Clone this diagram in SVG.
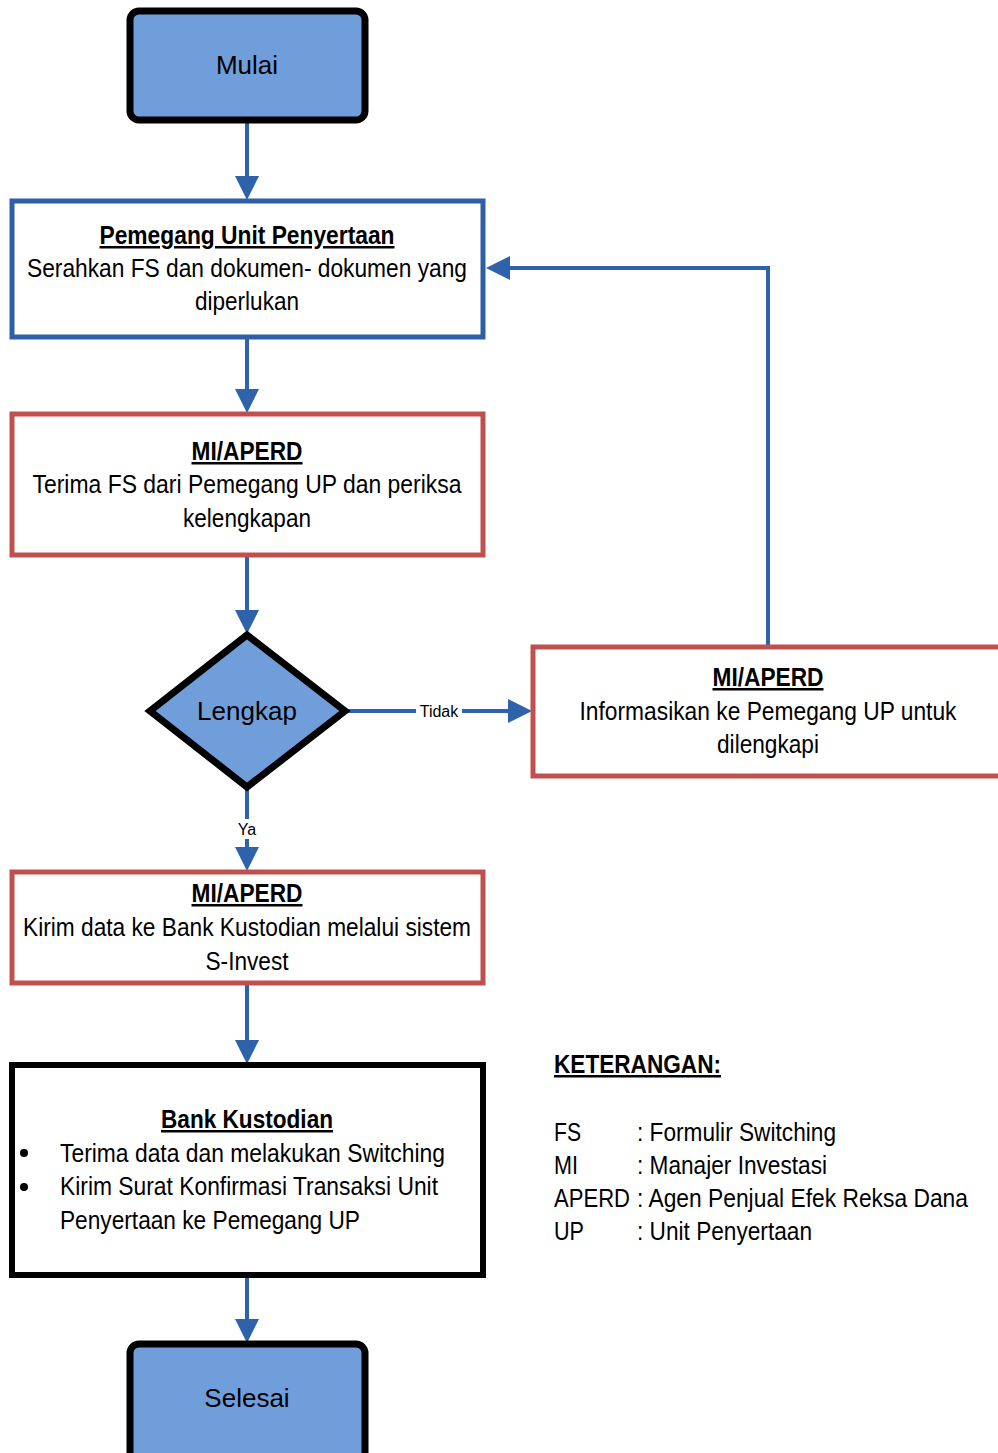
<svg xmlns="http://www.w3.org/2000/svg" width="998" height="1453" viewBox="0 0 998 1453">
<style>
.n{font-family:"Liberation Sans Narrow","Arial Narrow","Liberation Sans",sans-serif;font-size:25px;fill:#000}
.c{text-anchor:middle}
.b{font-weight:bold;text-decoration:underline}
.t{font-family:"Liberation Sans",Arial,sans-serif;font-size:26px;fill:#000;text-anchor:middle}
.s{font-family:"Liberation Sans",Arial,sans-serif;font-size:16px;fill:#000;text-anchor:middle}
.term{fill:#6f9edb;stroke:#000;stroke-width:7}
.blue{fill:#fff;stroke:#2e5fa6;stroke-width:5}
.red{fill:#fff;stroke:#c0504d;stroke-width:5}
.blk{fill:#fff;stroke:#000;stroke-width:6}
.con{fill:none;stroke:#2e62ab;stroke-width:4}
</style>
<defs>
<marker id="ah" markerWidth="6" markerHeight="6" refX="5" refY="3" orient="auto" markerUnits="strokeWidth">
<path d="M0,0 L6,3 L0,6 Z" fill="#2e62ab"/>
</marker>
</defs>
<g id="connectors">
<line class="con" x1="247" y1="121" x2="247" y2="196" marker-end="url(#ah)"/>
<line class="con" x1="247" y1="338" x2="247" y2="409" marker-end="url(#ah)"/>
<line class="con" x1="247" y1="556" x2="247" y2="630" marker-end="url(#ah)"/>
<line class="con" x1="345" y1="711" x2="528" y2="711" marker-end="url(#ah)"/>
<rect x="416" y="701" width="46" height="20" fill="#fff"/>
<text class="s" x="439" y="717">Tidak</text>
<line class="con" x1="247" y1="787" x2="247" y2="867" marker-end="url(#ah)"/>
<rect x="234" y="819" width="26" height="20" fill="#fff"/>
<text class="s" x="247" y="835">Ya</text>
<line class="con" x1="247" y1="985" x2="247" y2="1060" marker-end="url(#ah)"/>
<line class="con" x1="247" y1="1277" x2="247" y2="1339" marker-end="url(#ah)"/>
<polyline class="con" points="768,647 768,268 490,268" marker-end="url(#ah)"/>
</g>
<g id="mulai">
<rect class="term" x="130" y="11" width="235" height="109" rx="9"/>
<text class="t" x="247" y="74">Mulai</text>
</g>
<g id="pemegang">
<rect class="blue" x="12" y="201" width="471" height="136"/>
<text class="n c b" x="247" y="244" textLength="295" lengthAdjust="spacingAndGlyphs">Pemegang Unit Penyertaan</text>
<text class="n c" x="247" y="277" textLength="440" lengthAdjust="spacingAndGlyphs">Serahkan FS dan dokumen- dokumen yang</text>
<text class="n c" x="247" y="310" textLength="104" lengthAdjust="spacingAndGlyphs">diperlukan</text>
</g>
<g id="terima">
<rect class="red" x="12" y="414" width="471" height="141"/>
<text class="n c b" x="247" y="460" textLength="111" lengthAdjust="spacingAndGlyphs">MI/APERD</text>
<text class="n c" x="247" y="493" textLength="429" lengthAdjust="spacingAndGlyphs">Terima FS dari Pemegang UP dan periksa</text>
<text class="n c" x="247" y="527" textLength="128" lengthAdjust="spacingAndGlyphs">kelengkapan</text>
</g>
<g id="lengkap">
<polygon class="term" points="247,635 345,711 247,787 150,711"/>
<text class="t" x="247" y="720">Lengkap</text>
</g>
<g id="informasikan">
<rect class="red" x="533" y="647" width="475" height="129"/>
<text class="n c b" x="768" y="686" textLength="111" lengthAdjust="spacingAndGlyphs">MI/APERD</text>
<text class="n c" x="768" y="720" textLength="377" lengthAdjust="spacingAndGlyphs">Informasikan ke Pemegang UP untuk</text>
<text class="n c" x="768" y="753" textLength="102" lengthAdjust="spacingAndGlyphs">dilengkapi</text>
</g>
<g id="kirim">
<rect class="red" x="12" y="872" width="471" height="111"/>
<text class="n c b" x="247" y="902" textLength="111" lengthAdjust="spacingAndGlyphs">MI/APERD</text>
<text class="n c" x="247" y="936" textLength="448" lengthAdjust="spacingAndGlyphs">Kirim data ke Bank Kustodian melalui sistem</text>
<text class="n c" x="247" y="970" textLength="83" lengthAdjust="spacingAndGlyphs">S-Invest</text>
</g>
<g id="bank">
<rect class="blk" x="12" y="1065" width="471" height="210"/>
<text class="n c b" x="247" y="1128" textLength="172" lengthAdjust="spacingAndGlyphs">Bank Kustodian</text>
<circle cx="24" cy="1153" r="4" fill="#000"/>
<text class="n" x="60" y="1162" textLength="385" lengthAdjust="spacingAndGlyphs">Terima data dan melakukan Switching</text>
<circle cx="24" cy="1187" r="4" fill="#000"/>
<text class="n" x="60" y="1195" textLength="378" lengthAdjust="spacingAndGlyphs">Kirim Surat Konfirmasi Transaksi Unit</text>
<text class="n" x="60" y="1229" textLength="300" lengthAdjust="spacingAndGlyphs">Penyertaan ke Pemegang UP</text>
</g>
<g id="selesai">
<rect class="term" x="130" y="1344" width="235" height="118" rx="9"/>
<text class="t" x="247" y="1407">Selesai</text>
</g>
<g id="keterangan">
<text class="n b" x="554" y="1073" textLength="167" lengthAdjust="spacingAndGlyphs">KETERANGAN:</text>
<text class="n" x="554" y="1141" textLength="27" lengthAdjust="spacingAndGlyphs">FS</text>
<text class="n" x="637" y="1141" textLength="199" lengthAdjust="spacingAndGlyphs">: Formulir Switching</text>
<text class="n" x="554" y="1174" textLength="24" lengthAdjust="spacingAndGlyphs">MI</text>
<text class="n" x="637" y="1174" textLength="190" lengthAdjust="spacingAndGlyphs">: Manajer Investasi</text>
<text class="n" x="554" y="1207" textLength="76" lengthAdjust="spacingAndGlyphs">APERD</text>
<text class="n" x="637" y="1207" textLength="331" lengthAdjust="spacingAndGlyphs">: Agen Penjual Efek Reksa Dana</text>
<text class="n" x="554" y="1240" textLength="30" lengthAdjust="spacingAndGlyphs">UP</text>
<text class="n" x="637" y="1240" textLength="175" lengthAdjust="spacingAndGlyphs">: Unit Penyertaan</text>
</g>
</svg>
